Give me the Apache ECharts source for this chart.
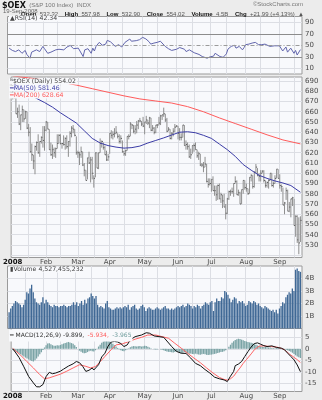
<!DOCTYPE html>
<html>
<head>
<meta charset="utf-8">
<script src="https://cdn.jsdelivr.net/npm/echarts@6/dist/echarts.min.js"></script>
<style>
html,body{margin:0;padding:0;background:#ececec;}
#chart{width:322px;height:400px;}
</style>
</head>
<body>
<div id="chart"></div>
<script>
// S&P 100 ($OEX) daily, Jan 2 - Sep 19 2008: one entry per trading day (index 0..181)
const monthNames = ['2008', 'Feb', 'Mar', 'Apr', 'May', 'Jun', 'Jul', 'Aug', 'Sep'];
const monthStartIdx = [0, 21, 41, 61, 83, 104, 125, 147, 168];
const midMonthIdx = [10, 30, 51, 70, 92, 114, 135, 156, 177];

const highs = [
  686,679,674,664,667,657,666,662,661,660,648,645,629,618,627,631,638,631,636,646,646,
  651,650,643,630,628,625,625,638,638,638,629,637,635,637,631,641,646,647,643,636,
  622,621,626,621,610,603,615,621,616,616,598,620,620,620,634,632,630,627,622,619,
  639,642,641,644,646,639,638,637,632,622,623,636,638,650,648,647,647,651,652,654,651,655,
  650,656,652,655,654,647,645,647,648,655,657,657,664,658,654,645,643,640,644,648,647,
  646,644,639,647,647,632,630,628,624,627,629,630,623,621,619,610,611,616,609,595,595,
  594,597,588,588,589,590,581,579,580,570,576,583,584,586,590,597,593,584,582,584,593,593,
  590,585,596,599,598,602,609,605,600,603,603,603,593,592,594,600,600,592,598,604,604,
  599,589,586,572,586,584,572,575,577,575,559,559,557,557.98
];
const lows = [
  672,673,658,654,647,642,650,650,653,643,636,620,612,604,599,622,619,616,629,625,622,
  641,643,623,617,614,616,615,624,629,628,624,627,623,624,616,626,635,639,636,618,
  615,608,615,607,597,593,594,609,591,594,586,596,605,604,620,625,623,618,612,612,
  619,634,633,635,638,634,629,629,620,617,617,622,633,636,643,639,638,639,643,650,646,645,
  638,648,647,644,641,641,638,639,644,647,647,652,655,650,640,641,633,633,636,640,645,
  633,632,632,635,627,623,623,615,614,619,621,623,615,613,607,606,601,606,591,586,588,
  582,583,578,573,574,575,571,566,567,555,560,574,578,580,577,590,579,578,570,570,580,584,
  582,579,580,592,585,586,600,597,592,592,600,591,586,586,585,593,587,586,590,595,595,
  585,582,569,560,574,563,562,557,568,549,538,532,521,532.9
];
const closes = [
  674,674,658,660,648,657,662,653,660,644,640,621,618,612,626,630,620,631,635,632,642,
  650,643,623,618,623,620,624,629,637,629,629,628,634,626,631,639,644,643,637,620,
  620,618,621,608,603,593,615,610,613,600,595,620,605,620,629,631,625,618,613,616,
  639,637,638,639,640,636,631,634,621,619,622,636,636,648,647,641,643,647,651,651,648,646,
  650,652,649,654,642,644,640,647,647,649,656,657,658,652,641,643,634,639,641,645,646,
  639,635,635,647,627,628,626,616,618,627,627,623,617,619,608,608,606,609,592,589,590,
  594,583,583,579,588,575,579,573,567,561,575,582,582,582,590,592,579,581,570,584,593,586,
  585,580,596,598,587,601,606,598,597,600,602,593,588,591,593,600,588,590,595,604,595,
  588,587,569,571,583,563,567,575,576,549,558,535,532.03,554.02
];

// Moving averages, [day index, value]
const ma50Points = [
  [0,688],[5,683],[10,678],[15,673],[20,669],[25,664.5],[30,659],[35,654],[40,649],[45,641.5],
  [50,634],[55,629.5],[60,627],[65,625.5],[70,624.5],[75,625],[80,626.5],[85,629.5],[90,632],
  [95,634.5],[100,637.3],[105,640],[110,640.5],[115,639.5],[120,637],[125,634],[130,628.5],
  [135,623],[140,616.5],[145,608.5],[150,603],[155,598],[160,595],[165,592.5],[170,590.5],
  [175,588],[181,581.46]
];
const ma200Points = [
  [0,695],[10,693],[20,691],[30,689],[40,686],[50,682.5],[60,679],[70,675.5],[80,672.5],
  [90,670.5],[100,668.5],[110,665],[120,660],[130,654],[140,648.5],[150,643],[160,637.5],
  [170,632.5],[181,628.64]
];

// RSI(14), [day index, value]
const rsiPoints = [
  [0,45],[2,41],[4,39],[6,42],[8,36],[10,41],[11,34],[13,27.5],[14,38],[15,36],[17,42],[19,39],
  [21,48],[22,44],[24,36],[26,38],[27,39],[29,42],[31,43],[32,40],[34,42],[36,47],[38,49.7],
  [40,44],[41,42],[43,45],[44,43],[46,30.4],[47,42],[48,40],[49,44],[50,45],[51,36],[52,45],
  [53,40],[54,48],[56,55],[58,50],[60,52],[61,58.5],[63,56],[64,55],[66,48],[68,51],[69,54],
  [70,47],[71,48],[72,55],[73,57],[75,60.8],[76,57],[77,57],[79,58],[81,59.6],[82,57],[83,63.7],
  [85,61],[87,56],[88,52],[90,53.8],[92,55],[94,57],[95,55],[97,48],[99,44],[101,41],[102,43],
  [104,43],[106,46],[107,48],[109,43],[110,39],[112,42],[113,41],[115,37],[116,36],[118,34],
  [120,30.4],[121,29],[123,27.5],[125,30],[126,29],[127,31],[128,36],[129,34],[131,30.4],
  [133,29],[134,27.5],[135,35],[136,43.3],[138,48],[139,51],[140,50],[141,45],[142,46],[143,48],
  [144,45],[145,42],[146,46],[147,51],[149,52],[151,53.8],[153,55],[154,53],[155,51],[156,49.7],
  [157,51],[159,52],[160,50],[162,48],[163,50],[165,49],[166,52],[168,49],[169,48],[170,40],
  [171,40],[172,47],[173,38],[174,40],[175,45],[176,46],[177,36],[178,41],[179,33],[180,34],
  [181,42.34]
];

// Volume, billions of shares
const volumeB = [
  1.3,1.6,1.8,2.0,2.2,2.1,2.0,1.9,1.7,1.9,2.3,2.9,2.8,3.2,3.5,2.9,2.4,2.1,2.0,1.9,2.1,
  2.5,2.0,2.3,2.1,1.9,1.8,1.7,1.9,1.8,1.8,1.7,1.8,1.8,1.9,1.8,1.7,1.8,1.8,1.9,2.1,
  1.9,2.1,1.8,2.0,2.2,1.9,2.3,2.0,2.4,2.5,2.8,2.6,2.4,2.6,1.9,1.7,1.8,1.7,1.6,2.0,
  2.2,1.7,1.6,1.5,1.5,1.6,1.7,1.6,1.7,1.6,1.7,1.8,1.7,1.9,1.5,1.7,1.8,1.9,1.6,1.5,1.6,1.8,
  1.9,1.7,1.4,1.6,1.7,1.6,1.5,1.5,1.6,1.7,1.6,1.5,1.6,1.7,1.8,1.6,1.6,1.5,1.6,1.5,1.6,
  1.7,1.8,1.7,1.8,1.9,1.7,1.8,2.0,1.9,1.8,1.6,1.8,1.7,1.9,1.8,1.6,1.8,1.9,2.1,2.0,1.9,
  2.1,2.2,1.4,2.1,2.4,2.2,2.2,2.5,2.4,3.0,2.9,2.7,2.4,2.1,2.3,2.5,2.4,2.0,2.2,2.1,2.2,2.0,
  1.8,1.9,2.2,2.1,2.0,2.2,2.1,1.9,2.0,1.8,1.7,1.6,1.8,1.7,1.6,1.5,1.4,1.5,1.3,1.5,1.2,
  1.6,1.8,2.1,2.0,2.5,2.7,2.9,2.8,3.2,3.0,4.7,4.8,4.6,4.53
];

// MACD(12,26,9)
const macdPoints = [
  [0,0],[2,-1.8],[4,-3.8],[7,-7.8],[10,-12],[13,-14.8],[15,-16.5],[17,-16.5],[19,-15.5],[21,-12],
  [23,-10.2],[25,-10.8],[27,-10.5],[30,-9.7],[32,-8.8],[35,-7.5],[38,-6.5],[40,-5.5],[42,-6],
  [44,-7.6],[46,-9.8],[48,-9.3],[50,-8.3],[51,-9.2],[52,-9.0],[54,-6.9],[56,-3.5],[58,-1.9],
  [60,1.2],[62,3.0],[64,3.2],[66,3.0],[68,2.3],[70,1.0],[72,1.7],[74,3.9],[77,5.3],[81,6.0],
  [84,7.0],[86,6.8],[89,5.6],[92,5.3],[95,5.0],[97,3.4],[100,1.0],[103,-1.1],[106,-1.9],
  [109,-2.0],[112,-4.0],[115,-6.3],[118,-7.3],[121,-9.0],[124,-10.5],[127,-12.3],[130,-13.0],
  [133,-13.5],[135,-14.2],[137,-11.9],[139,-9.8],[140,-7.3],[142,-6.6],[144,-5.5],[146,-3.3],
  [148,-1.2],[150,0.8],[152,2.3],[154,2.6],[156,2.0],[158,1.4],[160,1.0],[163,1.3],[166,0.6],
  [169,0.3],[171,-0.4],[173,-1.9],[175,-3.3],[177,-4.8],[179,-7.0],[181,-9.899]
];
const signalPoints = [
  [0,0.2],[2,-1],[5,-2.8],[9,-5.6],[13,-8.3],[17,-11.2],[20,-13.0],[23,-12.6],[26,-11.9],
  [30,-11.0],[34,-9.7],[38,-8.3],[42,-6.9],[46,-7.6],[49,-8.3],[52,-7.7],[55,-5.6],[58,-3.3],
  [62,-0.3],[65,1.7],[69,2.2],[73,3.1],[77,4.2],[81,5.0],[85,6.0],[90,6.0],[94,5.3],[98,4.6],
  [102,2.4],[106,0.3],[110,-1.9],[114,-4.0],[118,-6.0],[122,-8.3],[126,-10.5],[130,-12.4],
  [133,-13.3],[135,-13.6],[137,-13.0],[139,-11.9],[141,-10.0],[143,-8.3],[145,-6.3],[147,-4.7],
  [150,-2.2],[152,-0.4],[155,1.2],[158,1.3],[162,1.0],[166,0.8],[169,0.2],[171,-0.4],[174,-2.2],
  [177,-3.7],[179,-4.7],[181,-5.934]
];
const histogram = [
  -0.5,-0.8,-1.2,-1.6,-2.0, -2.4,-2.9,-3.3,-3.8,-4.2, -4.6,-5.0,-5.3,-5.5,-5.0,
  -4.2,-3.3,-2.4,-1.5,-0.5, 0.6,1.6,2.3,2.4,2.0, 1.6,1.3,1.4,1.6,1.5,
  1.7,2.0,2.3,2.5,2.8, 3.0,2.8,2.5,2.2,1.6, 0.8,0.0,-0.8,-1.3,-1.7,
  -1.9,-1.8,-1.4,-1.0,-0.8, -1.0,-1.2,-0.6,0.2,1.0, 1.8,2.6,3.2,3.7,3.9,
  3.6,3.2,2.8,2.2,1.6, 1.0,0.4,-0.2,-0.6,-0.9, -1.0,-0.6,-0.2,0.3,0.7,
  1.0,1.2,1.1,1.0,1.1, 1.2,1.0,1.1,1.3,1.2, 0.9,0.6,0.3,0.0,-0.2,
  -0.3,-0.2,0.0,-0.2,-0.4, -0.6,-0.9,-1.1,-1.3,-1.4, -1.5,-1.6,-1.4,-1.2,-1.3,
  -1.6,-1.9,-1.7,-1.4,-1.6, -2.0,-2.1,-2.0,-2.2,-2.3, -2.1,-2.3,-2.5,-2.6,-2.4,
  -2.2,-2.4,-2.6,-2.7,-2.6, -2.5,-2.3,-2.2,-2.0,-1.8, -1.6,-1.4,-1.3,-1.0,-0.6,
  0.0,0.9,1.8,2.6,3.3, 3.8,4.2,4.4,4.3,4.0, 3.7,3.4,3.2,3.0,2.8,
  2.6,2.4,2.1,1.8,1.5, 1.2,1.0,0.9,0.8,0.8, 0.7,0.6,0.6,0.4,0.3,
  0.3,0.4,0.5,0.4,0.3, 0.2,-0.2,-0.4,-0.6,-0.9, -1.3,-1.7,-2.2,-2.8,-3.3,
  -3.7,-3.965
];

const priceTicks = [520,530,540,550,560,570,580,590,600,610,620,630,640,650,660,670,680,690];
const priceLabels = [530,540,550,560,570,580,590,600,610,620,630,640,650,660,670,680,690];
const rsiLabels = [10,30,50,70,90];
const volumeLabels = [1,2,3,4];
const macdLabels = [-15,-10,-5,0,5];

const FONT = 'DejaVu Sans';
const SMALL_FONT = 'Liberation Sans';
const PANEL_BG = '#f8f9fc';
const GRID_LINE = '#dcdee4';
const AXIS_TEXT = '#4a4a4a';
const gridTicks = monthStartIdx.concat(midMonthIdx).filter(v => v > 0).sort((a, b) => a - b);

const panels = [
  { top: 16.5, height: 57.5 },   // RSI
  { top: 77, height: 180.5 },    // price
  { top: 266, height: 62.5 },    // volume
  { top: 328.5, height: 63.5 }   // MACD
];

function xAxisFor(gi, showLabels) {
  return {
    type: 'value', gridIndex: gi, min: -1, max: 182,
    axisLine: { show: false },
    axisTick: { show: false, customValues: gridTicks },
    splitLine: { show: true, lineStyle: { color: GRID_LINE, width: 1 } },
    axisLabel: {
      show: showLabels, customValues: monthStartIdx, margin: 1.5,
      fontSize: 7, fontFamily: FONT, color: AXIS_TEXT,
      formatter: v => {
        const k = monthStartIdx.indexOf(v);
        return k === 0 ? '{y|' + monthNames[0] + '}' : monthNames[k];
      },
      rich: { y: { fontSize: 7, fontWeight: 'bold', color: '#111', fontFamily: FONT } }
    }
  };
}

function yAxisFor(gi, min, max, ticks, labels, fmt) {
  return {
    type: 'value', gridIndex: gi, min: min, max: max, position: 'right',
    axisLine: { show: false },
    axisTick: { show: false, customValues: ticks },
    splitLine: { show: true, lineStyle: { color: GRID_LINE, width: 1 } },
    axisLabel: {
      customValues: labels, margin: 3, fontSize: 7, fontFamily: FONT, color: AXIS_TEXT,
      formatter: fmt || (v => String(v))
    }
  };
}

const chart = echarts.init(document.getElementById('chart'), null, { renderer: 'canvas' });

const txt = (opts) => Object.assign({ type: 'text', z: 100 }, opts);

chart.setOption({
  animation: false,
  backgroundColor: '#ececec',
  grid: panels.map(p => ({
    left: 7.5, width: 294.5, top: p.top, height: p.height,
    show: true, backgroundColor: PANEL_BG, borderColor: '#9a9a9a', borderWidth: 1
  })),
  xAxis: [xAxisFor(0, false), xAxisFor(1, true), xAxisFor(2, false), xAxisFor(3, true)],
  yAxis: [
    yAxisFor(0, 0, 100, [10, 90], rsiLabels),
    yAxisFor(1, 517.8, 693.9, priceTicks, priceLabels),
    yAxisFor(2, 0, 5, volumeLabels, volumeLabels, v => v + 'B'),
    yAxisFor(3, -18.53, 8.84, macdLabels, macdLabels)
  ],
  series: [
    {
      name: 'RSI', type: 'line', xAxisIndex: 0, yAxisIndex: 0, data: rsiPoints,
      symbol: 'none', lineStyle: { width: 1, color: '#6266ad' }, z: 3,
      markLine: {
        silent: true, symbol: 'none', label: { show: false },
        data: [
          { yAxis: 70, lineStyle: { color: '#8c8c8c', type: 'solid', width: 1 } },
          { yAxis: 30, lineStyle: { color: '#8c8c8c', type: 'solid', width: 1 } },
          { yAxis: 50, lineStyle: { color: '#9a9a9a', type: [4, 2, 1, 2], width: 1 } }
        ]
      }
    },
    {
      name: 'OEX', type: 'custom', xAxisIndex: 1, yAxisIndex: 1, clip: true, z: 3,
      data: closes.map((c, i) => [i, highs[i], lows[i], c]),
      encode: { x: 0, y: [1, 2, 3] },
      renderItem: (params, api) => {
        const i = api.value(0);
        const hi = api.coord([i, api.value(1)]);
        const lo = api.coord([i, api.value(2)]);
        const cl = api.coord([i, api.value(3)]);
        const x = hi[0];
        return {
          type: 'group',
          children: [
            { type: 'line', shape: { x1: x, y1: hi[1], x2: x, y2: lo[1] }, style: { stroke: '#8e8e8e', lineWidth: 1 } },
            { type: 'line', shape: { x1: x, y1: cl[1], x2: x + 1.2, y2: cl[1] }, style: { stroke: '#5c5c5c', lineWidth: 1 } }
          ]
        };
      }
    },
    {
      name: 'MA(50)', type: 'line', xAxisIndex: 1, yAxisIndex: 1, data: ma50Points,
      symbol: 'none', lineStyle: { color: '#3b3ca6', width: 1 }, z: 4
    },
    {
      name: 'MA(200)', type: 'line', xAxisIndex: 1, yAxisIndex: 1, data: ma200Points,
      symbol: 'none', lineStyle: { color: '#ff5b5b', width: 1 }, z: 4
    },
    {
      name: 'Volume', type: 'bar', xAxisIndex: 2, yAxisIndex: 2,
      data: volumeB.map((v, i) => [i, v]), barWidth: 1.3,
      itemStyle: { color: '#3f6895' }
    },
    {
      name: 'Hist', type: 'bar', xAxisIndex: 3, yAxisIndex: 3,
      data: histogram.map((v, i) => [i, v]), barWidth: 1.3,
      itemStyle: { color: '#7ba4a6' }
    },
    {
      name: 'Signal', type: 'line', xAxisIndex: 3, yAxisIndex: 3, data: signalPoints,
      symbol: 'none', lineStyle: { color: '#ff6464', width: 1 }, z: 4
    },
    {
      name: 'MACD', type: 'line', xAxisIndex: 3, yAxisIndex: 3, data: macdPoints,
      symbol: 'none', lineStyle: { color: '#111', width: 1 }, z: 5
    }
  ],
  graphic: [
    txt({ left: 2, top: -0.5, style: {
      text: '{b|$OEX} {g|(S&P 100 Index)  INDX}',
      rich: { b: { fontSize: 8, fontWeight: 'bold', fill: '#111', fontFamily: FONT },
              g: { fontSize: 6, fill: '#777', fontFamily: SMALL_FONT } } } }),
    txt({ right: 19, top: 1, style: { text: '©StockCharts.com', fontSize: 6, fill: '#777', fontFamily: SMALL_FONT } }),
    txt({ left: 3, top: 8.5, style: { text: '19-Sep-2008', fontSize: 6, fill: '#666', fontFamily: SMALL_FONT } }),
    txt({ right: 18, top: 8.5, style: {
      text: '{k|Open} {v|532.32}  {k|High} {v|557.98}  {k|Low} {v|532.90}  {k|Close} {v|554.02}  {k|Volume} {v|4.5B}  {k|Chg} {v|+21.99 (+4.13%)} {v|▲}',
      rich: { k: { fontSize: 6, fontWeight: 'bold', fill: '#111', fontFamily: SMALL_FONT },
              v: { fontSize: 6, fill: '#555', fontFamily: SMALL_FONT } } } }),
    // RSI panel label
    txt({ left: 9, top: 15.5, style: { text: '▲RSI(14) 42.34', fontSize: 6.2, fill: '#444', fontFamily: FONT,
      backgroundColor: PANEL_BG, padding: [0, 1, 0, 1] } }),
    // price panel legend
    txt({ left: 9, top: 78.5, style: { text: 'ᴺ$OEX (Daily) 554.02', fontSize: 6.2, fill: '#444', fontFamily: FONT,
      backgroundColor: PANEL_BG, padding: [0, 1, 0, 1] } }),
    txt({ left: 9, top: 85.5, style: {
      text: '{l|━}{t|MA(50) 581.46}', backgroundColor: PANEL_BG, padding: [0, 1, 0, 1],
      rich: { l: { fontSize: 6.2, fill: '#3b3ca6', fontFamily: FONT }, t: { fontSize: 6.2, fill: '#3b3ca6', fontFamily: FONT } } } }),
    txt({ left: 9, top: 92.5, style: {
      text: '{l|━}{t|MA(200) 628.64}', backgroundColor: PANEL_BG, padding: [0, 1, 0, 1],
      rich: { l: { fontSize: 6.2, fill: '#ff5b5b', fontFamily: FONT }, t: { fontSize: 6.2, fill: '#ff5b5b', fontFamily: FONT } } } }),
    // volume panel label
    txt({ left: 9, top: 266.5, style: { text: '▮Volume 4,527,455,232', fontSize: 6.2, fill: '#444', fontFamily: FONT,
      backgroundColor: PANEL_BG, padding: [0, 1, 0, 1] } }),
    // MACD panel label
    txt({ left: 9, top: 329.5, style: {
      text: '{a|━ MACD(12,26,9) -9.899,} {b|-5.934,} {c|-3.965}',
      backgroundColor: PANEL_BG, padding: [0, 1, 0, 1],
      rich: { a: { fontSize: 6, fill: '#333', fontFamily: FONT },
              b: { fontSize: 6, fill: '#ff5b5b', fontFamily: FONT },
              c: { fontSize: 6, fill: '#6f9c9c', fontFamily: FONT } } } })
  ]
});
</script>
</body>
</html>
